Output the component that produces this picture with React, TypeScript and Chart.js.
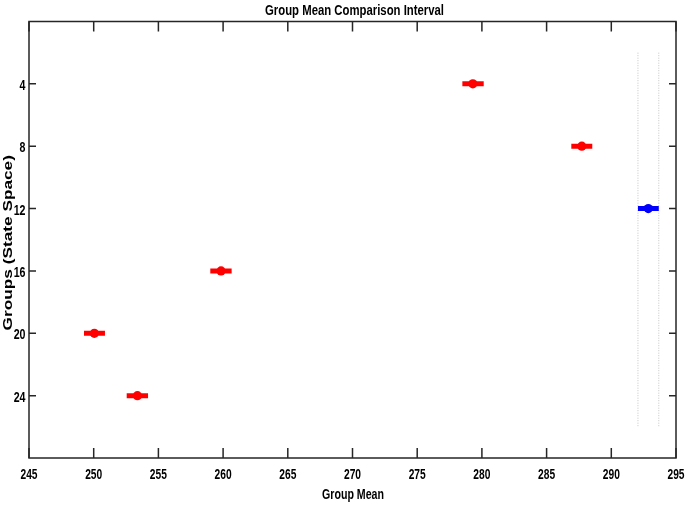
import React, { useEffect, useRef } from 'react';
import { Chart, registerables } from 'chart.js';

Chart.register(...registerables);

// ---- data ----
const GROUPS = [4, 8, 12, 16, 20, 24];
const GROUP_MEANS = [279.3, 287.72, 292.86, 259.84, 250.05, 253.38];
const CI_LOWER = [278.49, 286.91, 292.06, 259.01, 249.25, 252.55];
const CI_UPPER = [280.14, 288.53, 293.67, 260.66, 250.87, 254.2];
const SELECTED_GROUP = 12;
const COMPARISON_LIMITS = [292.06, 293.67];
const LIMIT_Y_RANGE = [2, 26];
const X_TICKS = [245, 250, 255, 260, 265, 270, 275, 280, 285, 290, 295];
const Y_TICKS = [4, 8, 12, 16, 20, 24];
const X_RANGE = [245, 295];
const Y_RANGE = [0, 28];
const TITLE = 'Group Mean Comparison Interval';
const X_TITLE = 'Group Mean';
const Y_TITLE = 'Groups (State Space)';

const SANS = "'Liberation Sans', Arial, Helvetica, sans-serif";
const AXIS_COLOR = '#262626';

function scaledText(ctx: any, text: string, x: number, y: number, sx: number, sy: number, align: string) {
  ctx.save();
  ctx.translate(x, y);
  ctx.scale(sx, sy);
  ctx.textAlign = align;
  ctx.textBaseline = 'alphabetic';
  ctx.fillText(text, 0, 0);
  ctx.restore();
}

const axesBoxPlugin = {
  id: 'axesBox',
  afterDraw(chart: any) {
    const { ctx, chartArea: a, scales } = chart;
    ctx.save();
    // axes box
    ctx.strokeStyle = AXIS_COLOR;
    ctx.lineWidth = 1.5;
    ctx.strokeRect(a.left, a.top, a.right - a.left, a.bottom - a.top);
    // inward tick marks on all four sides
    ctx.beginPath();
    scales.x.ticks.forEach((t: any) => {
      const x = scales.x.getPixelForValue(t.value);
      ctx.moveTo(x, a.bottom);
      ctx.lineTo(x, a.bottom - 10);
      ctx.moveTo(x, a.top);
      ctx.lineTo(x, a.top + 10);
    });
    scales.y.ticks.forEach((t: any) => {
      const y = scales.y.getPixelForValue(t.value);
      ctx.moveTo(a.left, y);
      ctx.lineTo(a.left + 7, y);
      ctx.moveTo(a.right, y);
      ctx.lineTo(a.right - 7, y);
    });
    ctx.stroke();

    ctx.fillStyle = '#000';
    // tick labels (condensed bold, like the reference)
    ctx.font = `bold 14px ${SANS}`;
    scales.x.ticks.forEach((t: any) => {
      const x = scales.x.getPixelForValue(t.value);
      scaledText(ctx, String(t.value), x, a.bottom + 21, 0.73, 1, 'center');
    });
    scales.y.ticks.forEach((t: any) => {
      const y = scales.y.getPixelForValue(t.value);
      scaledText(ctx, String(t.value), a.left - 3.5, y + 6, 0.76, 1, 'right');
    });

    // chart title
    ctx.font = `bold 14px ${SANS}`;
    scaledText(ctx, TITLE, (a.left + a.right) / 2 + 2, 14.5, 0.81, 1, 'center');
    // x-axis title
    ctx.font = `bold 14px ${SANS}`;
    scaledText(ctx, X_TITLE, (a.left + a.right) / 2 + 0.5, 499, 0.76, 1, 'center');
    // y-axis title (rotated, stretched along its length)
    ctx.save();
    ctx.translate(11.5, (a.top + a.bottom) / 2 + 3);
    ctx.rotate(-Math.PI / 2);
    ctx.font = `bold 12.5px ${SANS}`;
    scaledText(ctx, Y_TITLE, 0, 0, 1.38, 1, 'center');
    ctx.restore();

    ctx.restore();
  },
};

export default function App() {
  const ref = useRef<HTMLCanvasElement | null>(null);

  useEffect(() => {
    if (!ref.current) return;
    const colorFor = (g: number) => (g === SELECTED_GROUP ? '#0000ff' : '#ff0000');

    const limitSets = COMPARISON_LIMITS.map((xv) => ({
      data: [
        { x: xv, y: LIMIT_Y_RANGE[0] },
        { x: xv, y: LIMIT_Y_RANGE[1] },
      ],
      showLine: true,
      borderColor: '#c4c4c4',
      borderWidth: 1,
      borderDash: [1, 1.5],
      pointRadius: 0,
      order: 3,
    }));

    const intervalSets = GROUPS.map((g, i) => ({
      data: [
        { x: CI_LOWER[i], y: g },
        { x: CI_UPPER[i], y: g },
      ],
      showLine: true,
      borderColor: colorFor(g),
      borderWidth: 5,
      borderCapStyle: 'butt',
      pointRadius: 0,
      order: 2,
    }));

    const meanSet = {
      data: GROUPS.map((g, i) => ({ x: GROUP_MEANS[i], y: g })),
      showLine: false,
      pointRadius: 4.6,
      pointBorderWidth: 0,
      pointBackgroundColor: GROUPS.map(colorFor),
      pointBorderColor: GROUPS.map(colorFor),
      order: 1,
    };

    const chart = new Chart(ref.current, {
      type: 'scatter',
      data: { datasets: [meanSet, ...intervalSets, ...limitSets] as any },
      plugins: [axesBoxPlugin],
      options: {
        animation: false,
        responsive: false,
        events: [],
        layout: { padding: { left: 0, right: 9, top: 21.5, bottom: 0 } },
        plugins: {
          legend: { display: false },
          tooltip: { enabled: false },
          title: { display: false },
        },
        scales: {
          x: {
            type: 'linear',
            min: X_RANGE[0],
            max: X_RANGE[1],
            afterBuildTicks: (s: any) => {
              s.ticks = X_TICKS.map((v) => ({ value: v }));
            },
            afterFit: (s: any) => {
              s.height = 48;
              s.paddingLeft = 0;
              s.paddingRight = 0;
            },
            grid: { display: false, drawTicks: false },
            border: { display: false },
            ticks: { display: false },
          },
          y: {
            type: 'linear',
            reverse: true,
            min: Y_RANGE[0],
            max: Y_RANGE[1],
            afterBuildTicks: (s: any) => {
              s.ticks = Y_TICKS.map((v) => ({ value: v }));
            },
            afterFit: (s: any) => {
              s.width = 29;
              s.paddingTop = 0;
              s.paddingBottom = 0;
            },
            grid: { display: false, drawTicks: false },
            border: { display: false },
            ticks: { display: false },
          },
        },
      } as any,
    });
    return () => chart.destroy();
  }, []);

  return (
    <div style={{ position: 'absolute', left: 0, top: 0, width: 685, height: 506, background: '#fff' }}>
      <canvas ref={ref} width={685} height={506} style={{ display: 'block' }} />
    </div>
  );
}
